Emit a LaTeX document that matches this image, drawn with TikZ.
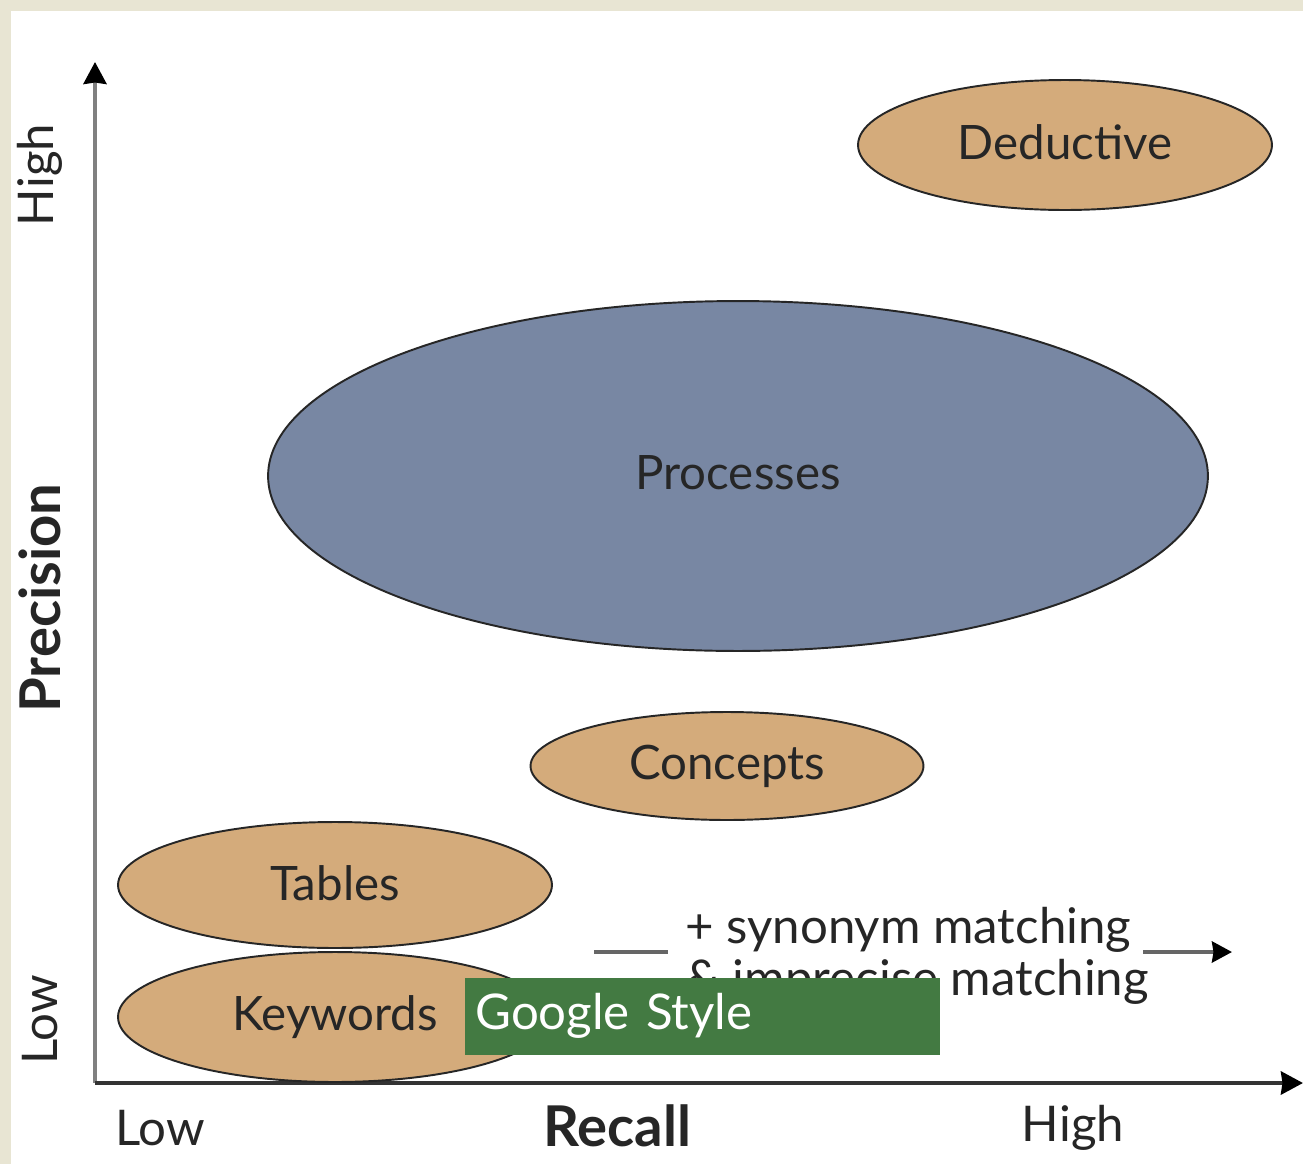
\documentclass[tikz,border=0pt]{standalone}
\usepackage{fontspec}
\setmainfont{Lato}
\usetikzlibrary{shapes.geometric,arrows.meta}

\definecolor{tanfill}{HTML}{D4AB7B}
\definecolor{slatefill}{HTML}{7887A3}
\definecolor{framecol}{HTML}{E8E5D3}
\definecolor{leafgreen}{HTML}{437A42}

\tikzset{
  blob/.style={ellipse,draw=black!85,line width=1.1pt,fill=tanfill,inner sep=0pt,
    font=\fontsize{27}{30}\selectfont,text=black!85},
  axislabel/.style={font=\fontsize{28}{30}\selectfont,text=black!85},
  boldlabel/.style={font=\fontsize{32}{34}\selectfont\bfseries,text=black!85},
  axisline/.style={line width=2.2pt,-{Stealth[length=0.44cm,width=0.46cm,inset=0.03cm,black]}},
}

\begin{document}
\begin{tikzpicture}[x=0.02cm,y=-0.02cm] % one unit per pixel, y going down
\useasboundingbox (0,0) rectangle (1303,1164);
\fill[framecol] (0,0) rectangle (1303,1164);
\fill[white] (11,11) rectangle (1303,1164);

% axes
\coordinate (origin) at (95,1083);
\coordinate (ytop) at (95,62);
\coordinate (xend) at (1303,1083);
\draw[axisline,draw=black!50] (origin) -- (ytop);
\draw[axisline,draw=black!80,line width=2.4pt] (origin) -- (xend);

% axis labels
\node[axislabel,rotate=90] (yhigh) at (40,175) {High};
\node[boldlabel,rotate=90] (ylabel) at (40,598) {Precision};
\node[axislabel,rotate=90] (ylow) at (40,1020) {Low};
\node[axislabel] (xlow) at (160,1128) {Low};
\node[boldlabel] (xlabel) at (617,1126) {Recall};
\node[axislabel] (xhigh) at (1073,1128) {High};

% regions
\node[blob,minimum width=8.28cm,minimum height=2.6cm] (deductive) at (1065,145) {\raisebox{3pt}{Deductive}};
\node[blob,fill=slatefill,minimum width=18.8cm,minimum height=7cm] (processes) at (738,476) {\raisebox{4pt}{Processes}};
\node[blob,minimum width=7.86cm,minimum height=2.16cm] (concepts) at (727,766) {\raisebox{2pt}{Concepts}};
\node[blob,minimum width=8.68cm,minimum height=2.52cm] (tables) at (335,885) {\raisebox{2pt}{Tables}};
\node[blob,minimum width=8.68cm,minimum height=2.6cm] (keywords) at (335,1017) {\raisebox{2pt}{Keywords}};

% matching arrow
\node[axislabel,align=left,inner sep=0pt] (match) at (917,956) {+ synonym matching\\\& imprecise matching};
\coordinate (mstart) at (594,952);
\coordinate (mleft) at (668,952);
\coordinate (mright) at (1143,952);
\coordinate (mend) at (1232,952);
\draw[line width=2.2pt,black!60] (mstart) -- (mleft);
\draw[line width=2.2pt,black!60,-{Stealth[length=0.4cm,width=0.42cm,inset=0.03cm,black]}] (mright) -- (mend);

% overlay box
\node[fill=leafgreen,text=white,anchor=west,text width=9.1cm,inner xsep=0.2cm,
  minimum height=1.54cm,align=left,font=\fontsize{28}{30}\selectfont] (google) at (465,1016) {\raisebox{-2pt}{Google Style}};
\end{tikzpicture}
\end{document}
